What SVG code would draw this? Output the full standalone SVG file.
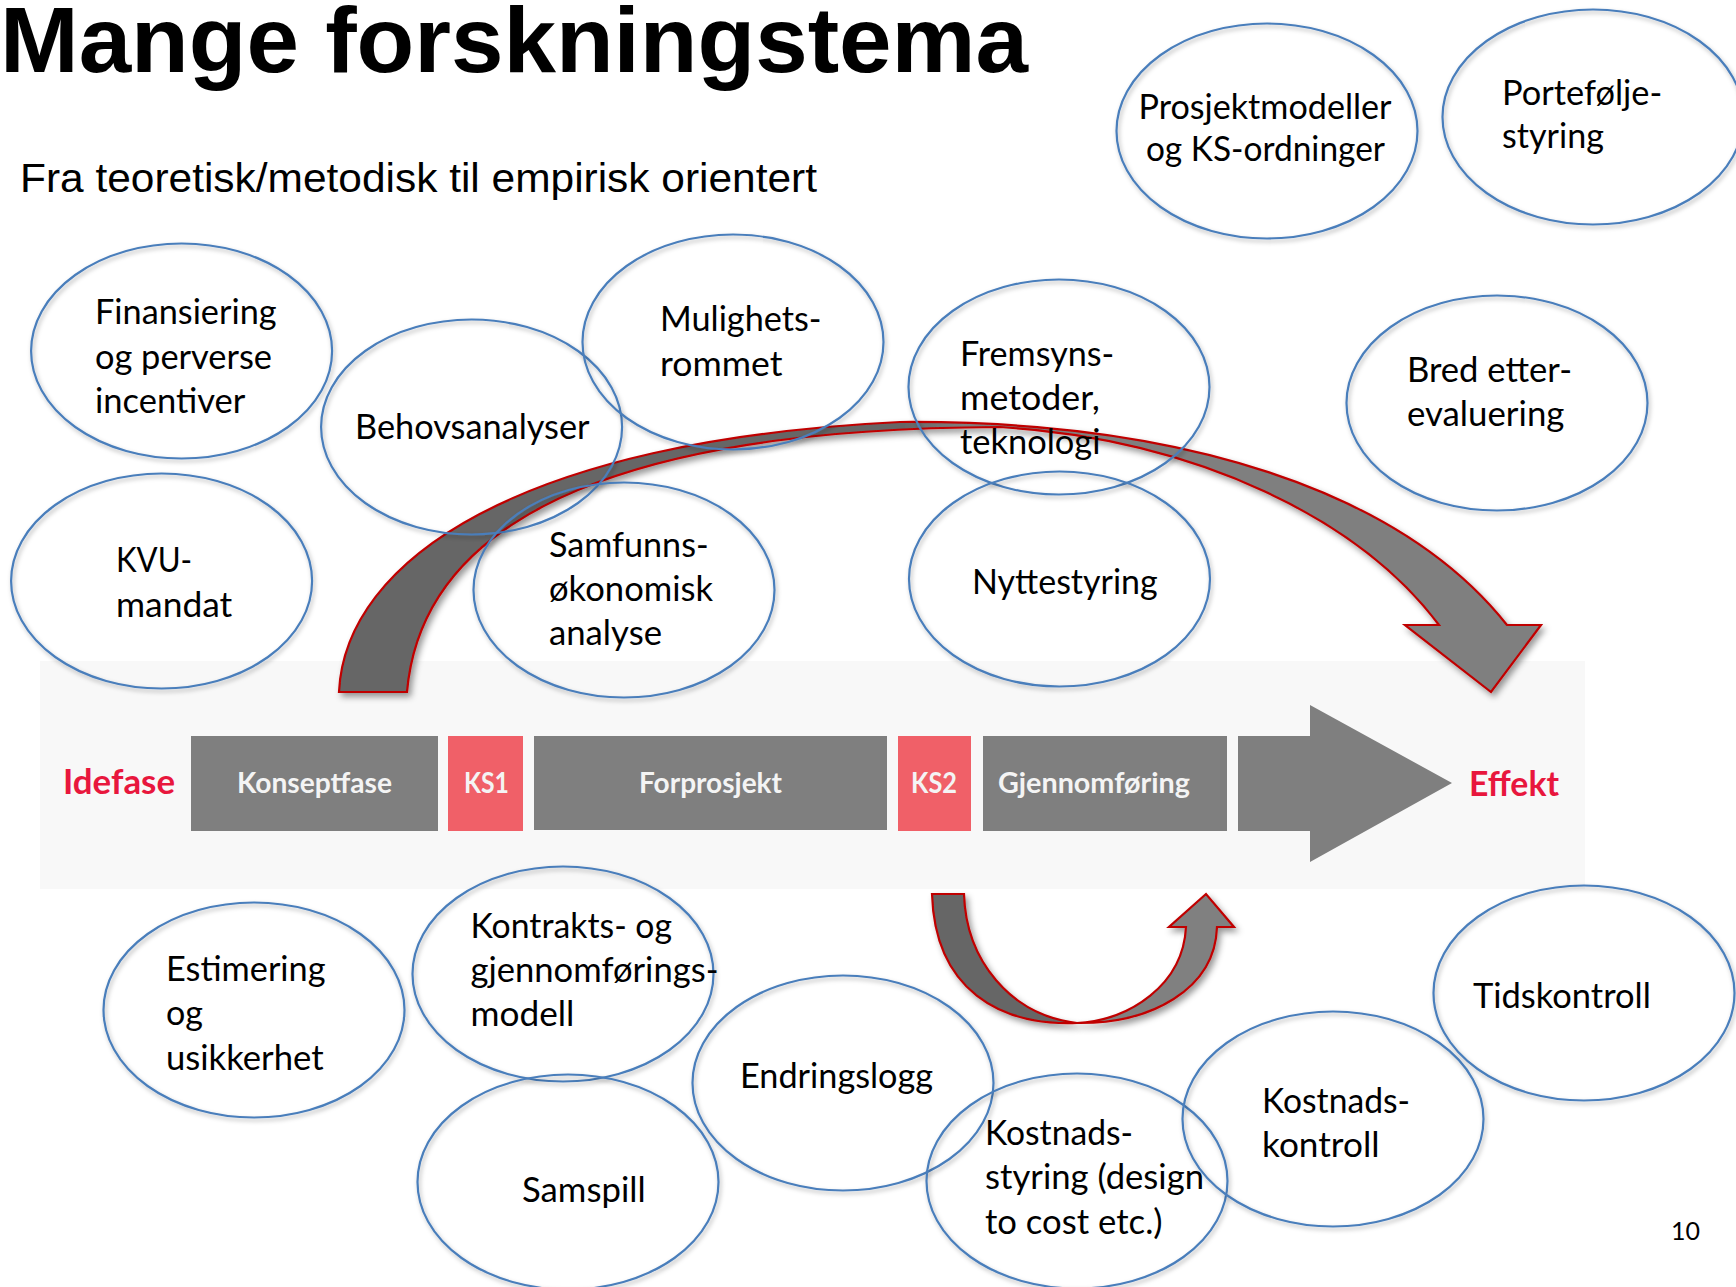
<svg xmlns="http://www.w3.org/2000/svg" width="1736" height="1287" viewBox="0 0 1736 1287">
<defs>
<style>
.node ellipse{fill:none;stroke:#4a7ebb;stroke-width:2.2;filter:url(#esh)}
.node text{font-family:Lato,"Liberation Sans",sans-serif;font-size:34px;fill:#000}
.phase{font-family:Lato,"Liberation Sans",sans-serif;font-weight:bold;font-size:28px;fill:#f4f4f4}
.red{font-family:Lato,"Liberation Sans",sans-serif;font-weight:bold;font-size:34px;fill:#e8173d}
.box{fill:#7f7f7f}
.ks{fill:#f06068}
.arr{stroke:#c00000;stroke-width:2.2;stroke-linejoin:miter;filter:url(#ash)}
</style>
<filter id="esh" x="-10%" y="-10%" width="120%" height="125%">
<feDropShadow dx="1.5" dy="2.5" stdDeviation="2" flood-color="#000" flood-opacity="0.3"/>
</filter>
<filter id="ash" x="-10%" y="-10%" width="125%" height="130%">
<feDropShadow dx="3" dy="4" stdDeviation="3" flood-color="#000" flood-opacity="0.4"/>
</filter>
<linearGradient id="bigg" gradientUnits="userSpaceOnUse" x1="339" y1="0" x2="1541" y2="0">
<stop offset="0" stop-color="#666"/>
<stop offset="0.47" stop-color="#666"/>
<stop offset="0.52" stop-color="#7f7f7f"/>
<stop offset="1" stop-color="#7f7f7f"/>
</linearGradient>
</defs>
<rect x="0" y="0" width="1736" height="1287" fill="#fff"/>

<g id="title">
<text x="0" y="72" font-family="'Liberation Sans',Arial,sans-serif" font-weight="bold" font-size="92" textLength="1028" lengthAdjust="spacingAndGlyphs">Mange forskningstema</text>
<text x="20" y="192" font-family="'Liberation Sans',Arial,sans-serif" font-size="41" textLength="797" lengthAdjust="spacingAndGlyphs">Fra teoretisk/metodisk til empirisk orientert</text>
</g>

<g id="phasebar">
<rect x="40" y="661" width="1545" height="228" fill="#f8f8f8"/>
<rect class="box" x="191" y="736" width="247" height="95"/>
<rect class="ks" x="448" y="736" width="75" height="95"/>
<rect class="box" x="534" y="736" width="353" height="94"/>
<rect class="ks" x="898" y="736" width="73" height="95"/>
<rect class="box" x="983" y="736" width="244" height="95"/>
<polygon class="box" points="1238,736 1310,736 1310,705 1452,783 1310,862 1310,831 1238,831"/>
<text class="red" x="63" y="794" textLength="112" lengthAdjust="spacingAndGlyphs">Idefase</text>
<text class="phase" x="237" y="793" textLength="155" lengthAdjust="spacingAndGlyphs">Konseptfase</text>
<text class="phase" x="464" y="793" textLength="45" lengthAdjust="spacingAndGlyphs">KS1</text>
<text class="phase" x="639" y="793" textLength="143" lengthAdjust="spacingAndGlyphs">Forprosjekt</text>
<text class="phase" x="911" y="793" textLength="46" lengthAdjust="spacingAndGlyphs">KS2</text>
<text class="phase" x="998" y="793" textLength="192" lengthAdjust="spacingAndGlyphs">Gjennomføring</text>
<text class="red" x="1469" y="796" textLength="90" lengthAdjust="spacingAndGlyphs">Effekt</text>
</g>

<g id="connectors">
<path class="arr" fill="url(#bigg)" d="M339,692 C345,560 520,440 900,422 C1180,420 1400,490 1507,625 L1541,625 L1491,692 L1405,625 L1439,625 C1360,520 1200,440 1000,427 C700,428 425,485 407,692 Z"/>
<path class="arr" fill="#666" d="M932,894 L964,894 C966,960 1010,1015 1077,1023 C1000,1026 935,990 932,894 Z"/>
<path class="arr" fill="#808080" d="M1077,1023 C1130,1020 1183,985 1186,927 L1169,927 L1206,894 L1234,927 L1217,927 C1215,990 1150,1024 1077,1023 Z"/>
</g>

<g id="n-finansiering" class="node">
<ellipse cx="181.6" cy="351" rx="150.5" ry="107.5"/>
<text x="95" y="324" textLength="181.6" lengthAdjust="spacingAndGlyphs">Finansiering</text>
<text x="95" y="369" textLength="177" lengthAdjust="spacingAndGlyphs">og perverse</text>
<text x="95" y="413" textLength="150.3" lengthAdjust="spacingAndGlyphs">incentiver</text>
</g>
<g id="n-behovsanalyser" class="node">
<ellipse cx="471.6" cy="427" rx="150.5" ry="107.5"/>
<text x="355" y="439" textLength="234.6" lengthAdjust="spacingAndGlyphs">Behovsanalyser</text>
</g>
<g id="n-mulighetsrommet" class="node">
<ellipse cx="733" cy="342" rx="150.5" ry="107.5"/>
<text x="660" y="331" textLength="161.5" lengthAdjust="spacingAndGlyphs">Mulighets-</text>
<text x="660" y="376" textLength="122.4" lengthAdjust="spacingAndGlyphs">rommet</text>
</g>
<g id="n-kvu" class="node">
<ellipse cx="161.6" cy="581" rx="150.5" ry="107.5"/>
<text x="116" y="572" textLength="76.1" lengthAdjust="spacingAndGlyphs">KVU-</text>
<text x="116" y="617" textLength="116.3" lengthAdjust="spacingAndGlyphs">mandat</text>
</g>
<g id="n-samfunnsokonomisk" class="node">
<ellipse cx="624" cy="590" rx="150.5" ry="107.5"/>
<text x="549" y="557" textLength="159.6" lengthAdjust="spacingAndGlyphs">Samfunns-</text>
<text x="549" y="601" textLength="164.1" lengthAdjust="spacingAndGlyphs">økonomisk</text>
<text x="549" y="645" textLength="113" lengthAdjust="spacingAndGlyphs">analyse</text>
</g>
<g id="n-fremsyn" class="node">
<ellipse cx="1059" cy="387" rx="150.5" ry="107.5"/>
<text x="960" y="366" textLength="154.3" lengthAdjust="spacingAndGlyphs">Fremsyns-</text>
<text x="960" y="410" textLength="139.9" lengthAdjust="spacingAndGlyphs">metoder,</text>
<text x="960" y="454" textLength="140.5" lengthAdjust="spacingAndGlyphs">teknologi</text>
</g>
<g id="n-nyttestyring" class="node">
<ellipse cx="1059.5" cy="579" rx="150.5" ry="107.5"/>
<text x="972" y="594" textLength="185.7" lengthAdjust="spacingAndGlyphs">Nyttestyring</text>
</g>
<g id="n-etterevaluering" class="node">
<ellipse cx="1497" cy="403" rx="150.5" ry="107.5"/>
<text x="1407" y="382" textLength="165" lengthAdjust="spacingAndGlyphs">Bred etter-</text>
<text x="1407" y="426" textLength="157.4" lengthAdjust="spacingAndGlyphs">evaluering</text>
</g>
<g id="n-prosjektmodeller" class="node">
<ellipse cx="1267" cy="131" rx="150.5" ry="107.5"/>
<text x="1138.5" y="119" textLength="253" lengthAdjust="spacingAndGlyphs">Prosjektmodeller</text>
<text x="1146" y="161" textLength="239" lengthAdjust="spacingAndGlyphs">og KS-ordninger</text>
</g>
<g id="n-portefolje" class="node">
<ellipse cx="1593" cy="117" rx="150.5" ry="107.5"/>
<text x="1502" y="105" textLength="160.2" lengthAdjust="spacingAndGlyphs">Portefølje-</text>
<text x="1502" y="148" textLength="101.9" lengthAdjust="spacingAndGlyphs">styring</text>
</g>
<g id="n-estimering" class="node">
<ellipse cx="254" cy="1010" rx="150.5" ry="107.5"/>
<text x="166" y="981" textLength="159.6" lengthAdjust="spacingAndGlyphs">Estimering</text>
<text x="166" y="1025" textLength="36.9" lengthAdjust="spacingAndGlyphs">og</text>
<text x="166" y="1070" textLength="157.6" lengthAdjust="spacingAndGlyphs">usikkerhet</text>
</g>
<g id="n-kontrakt" class="node">
<ellipse cx="563" cy="974" rx="150.5" ry="107.5"/>
<text x="470.5" y="938" textLength="201.5" lengthAdjust="spacingAndGlyphs">Kontrakts- og</text>
<text x="470.5" y="982" textLength="248" lengthAdjust="spacingAndGlyphs">gjennomførings-</text>
<text x="470.5" y="1026" textLength="103.9" lengthAdjust="spacingAndGlyphs">modell</text>
</g>
<g id="n-endringslogg" class="node">
<ellipse cx="843" cy="1083" rx="150.5" ry="107.5"/>
<text x="740" y="1088" textLength="193" lengthAdjust="spacingAndGlyphs">Endringslogg</text>
</g>
<g id="n-samspill" class="node">
<ellipse cx="568" cy="1182" rx="150.5" ry="107.5"/>
<text x="522" y="1202" textLength="123.6" lengthAdjust="spacingAndGlyphs">Samspill</text>
</g>
<g id="n-kostnadsstyring" class="node">
<ellipse cx="1077" cy="1181" rx="150.5" ry="107.5"/>
<text x="985" y="1145" textLength="148" lengthAdjust="spacingAndGlyphs">Kostnads-</text>
<text x="985" y="1189" textLength="219" lengthAdjust="spacingAndGlyphs">styring (design</text>
<text x="985" y="1234" textLength="177.6" lengthAdjust="spacingAndGlyphs">to cost etc.)</text>
</g>
<g id="n-kostnadskontroll" class="node">
<ellipse cx="1333" cy="1119" rx="150.5" ry="107.5"/>
<text x="1262" y="1113" textLength="148" lengthAdjust="spacingAndGlyphs">Kostnads-</text>
<text x="1262" y="1157" textLength="117.5" lengthAdjust="spacingAndGlyphs">kontroll</text>
</g>
<g id="n-tidskontroll" class="node">
<ellipse cx="1584" cy="993" rx="150.5" ry="107.5"/>
<text x="1473" y="1008" textLength="177.9" lengthAdjust="spacingAndGlyphs">Tidskontroll</text>
</g>

<text id="pagenum" x="1671" y="1240" font-family="Lato,'Liberation Sans',sans-serif" font-size="25" fill="#000">10</text>
</svg>
